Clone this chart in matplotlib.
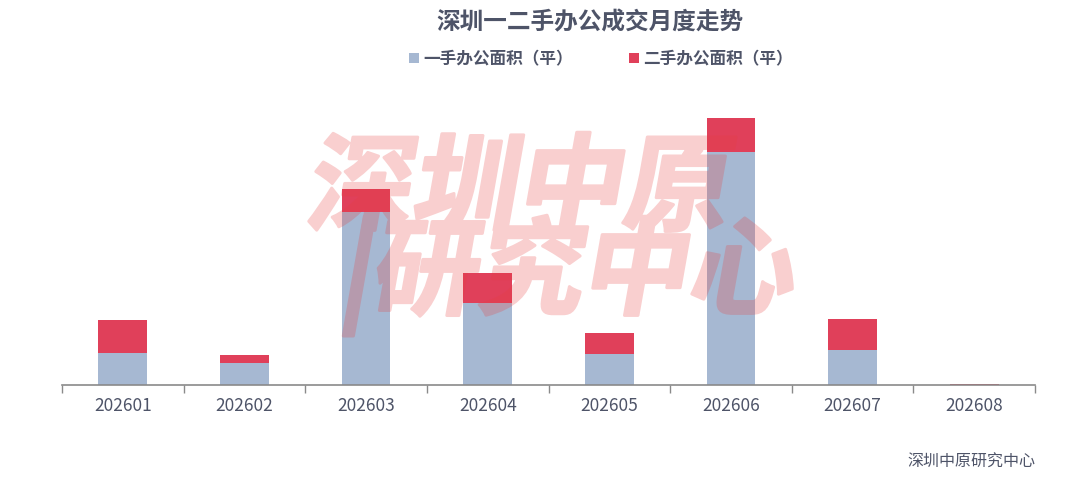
import numpy as np
import matplotlib.pyplot as plt
from matplotlib.textpath import TextPath
from matplotlib.patches import PathPatch
from matplotlib.font_manager import FontProperties
from matplotlib.transforms import Affine2D

plt.rcParams['font.family'] = ['Noto Sans CJK SC', 'DejaVu Sans']

# monthly office deals (sq m)
months = ['202601', '202602', '202603', '202604', '202605', '202606', '202607', '202608']
first_hand = [32000, 22000, 173000, 82000, 31000, 233000, 35000, 0]
second_hand = [33000, 8000, 23000, 30000, 21000, 34000, 31000, 1000]

blue = '#a6b8d2'
red = '#e0405a'
txt = '#4e5468'
W, H = 1080, 499

fig = plt.figure(figsize=(W / 100, H / 100), dpi=100)
ax = fig.add_axes([62 / W, 114 / H, 973 / W, 300 / H])

x = list(range(len(months)))
ax.bar(x, first_hand, width=0.4, color=blue, label='一手办公面积（平）')
ax.bar(x, second_hand, width=0.4, bottom=first_hand, color=red, label='二手办公面积（平）')

ax.set_xlim(-0.5, len(months) - 0.5)
ax.set_ylim(0, 300000)
ax.set_yticks([])
for s in ['top', 'right', 'left']:
    ax.spines[s].set_visible(False)
ax.spines['bottom'].set_color('#8a8a8a')
ax.spines['bottom'].set_linewidth(1.2)

# ticks on category boundaries, labels at centres
ax.set_xticks([i - 0.5 for i in range(len(months) + 1)])
ax.set_xticklabels([])
ax.tick_params(axis='x', length=6, color='#8a8a8a', width=1)
for i, m in enumerate(months):
    ax.text(i, -0.04, m, transform=ax.get_xaxis_transform(), ha='center', va='top',
            fontsize=12.5, color=txt)

fig.text(590 / W, 1 - 22 / H, '深圳一二手办公成交月度走势', ha='center', va='center',
         fontsize=17, fontweight='bold', color=txt)

leg = fig.legend(loc='center', bbox_to_anchor=(601 / W, 1 - 59 / H), ncol=2,
                 frameon=False, fontsize=12, handlelength=0.6, handleheight=0.6,
                 handletextpad=0.3, columnspacing=3.3)
for t in leg.get_texts():
    t.set_color(txt)
    t.set_fontweight('bold')

fig.text(1035 / W, 1 - 462 / H, '深圳中原研究中心', ha='right', va='center',
         fontsize=11.5, color=txt)

# slanted heavy watermark: draw a mask off-screen, then lay it on top with alpha
mfig = plt.figure(figsize=(W / 100, H / 100), dpi=100)
fp = FontProperties(family='Noto Sans CJK SC', weight='bold')
for s, px, py in [('深圳中原', 304, 222), ('|研究中心', 338, 306)]:
    path = TextPath((0, 0), s, size=76, prop=fp)
    tr = (Affine2D().skew_deg(10, 0).scale(1 / 72).translate(px / 100, (H - py) / 100)
          + mfig.dpi_scale_trans)
    mfig.patches.append(PathPatch(path, transform=tr, facecolor='k', edgecolor='k',
                                  linewidth=2.2, joinstyle='round'))
mfig.canvas.draw()
mask = 1 - np.asarray(mfig.canvas.buffer_rgba())[..., 0] / 255.0
plt.close(mfig)

wm = np.zeros((mask.shape[0], mask.shape[1], 4))
wm[..., 0], wm[..., 1], wm[..., 2] = 0.91, 0.25, 0.25
wm[..., 3] = mask * 0.25
fig.figimage(wm, 0, 0, origin='upper', zorder=10)

fig.savefig('out.png', dpi=100)
